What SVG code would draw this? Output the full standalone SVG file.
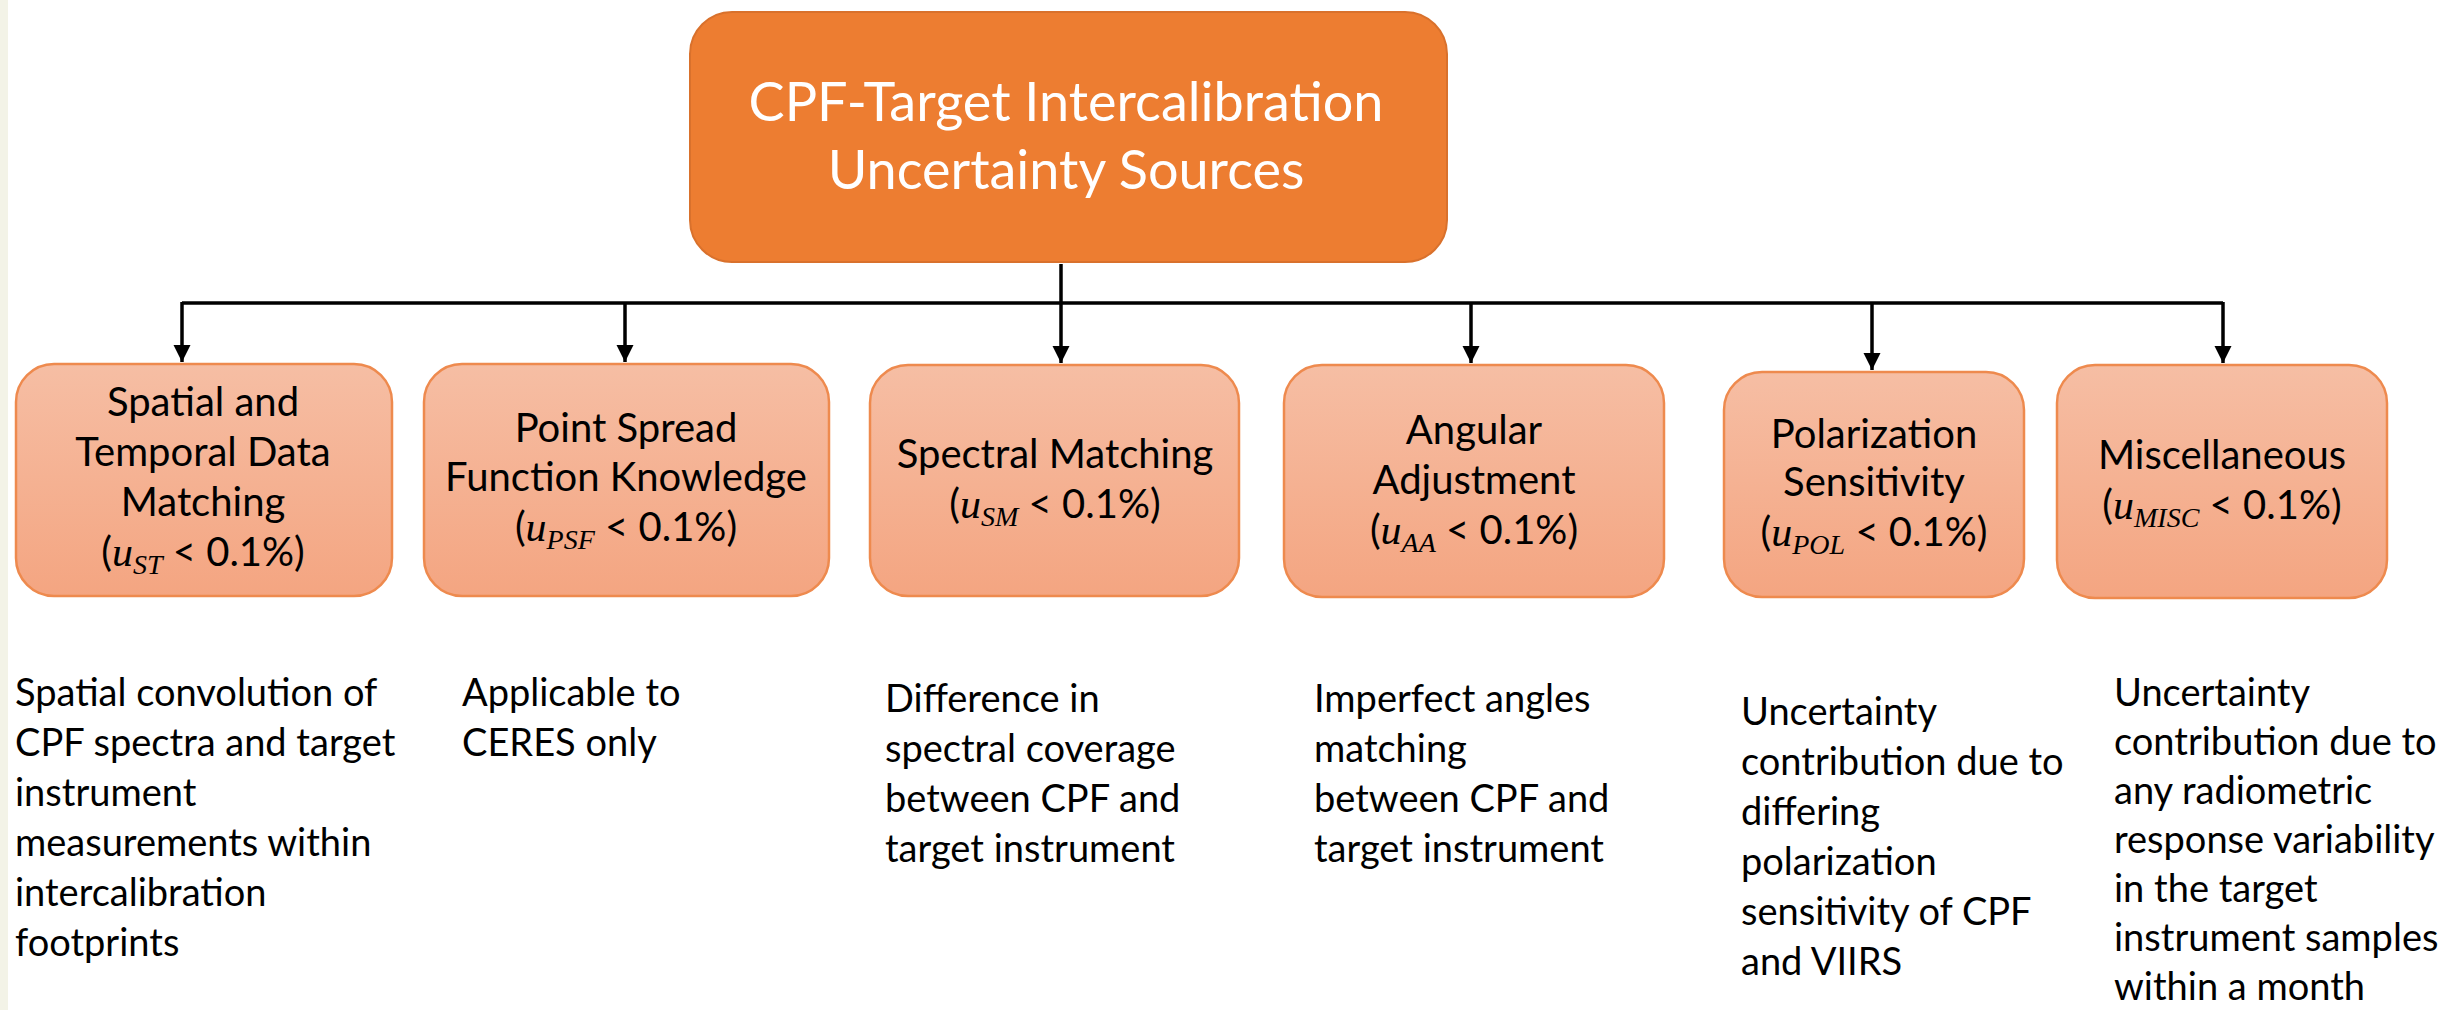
<svg xmlns="http://www.w3.org/2000/svg" width="2461" height="1010" viewBox="0 0 2461 1010">
<style>
.bx{stroke:#EE8A4E;stroke-width:2.5;fill:url(#g)}
.main{fill:#ED7D31;stroke:#D9712C;stroke-width:2}
.tt{font-family:Lato,"Open Sans",sans-serif;font-size:54px;fill:#fff;text-anchor:middle}
.bt{font-family:Lato,"Open Sans",sans-serif;font-size:40px;fill:#000;text-anchor:middle}
.dt{font-family:Lato,"Open Sans",sans-serif;font-size:38px;fill:#000}
.m{font-family:"Liberation Serif","DejaVu Serif",serif;font-style:italic;font-size:42px}
.ms{font-family:"Liberation Serif","DejaVu Serif",serif;font-style:italic;font-size:28px}
.ln{stroke:#000;stroke-width:3.5;fill:none}
</style>
<defs>
<linearGradient id="g" x1="0" y1="0" x2="0" y2="1">
<stop offset="0" stop-color="#F6BEA4"/>
<stop offset="1" stop-color="#F4A581"/>
</linearGradient>
<marker id="ah" viewBox="0 0 10 10" refX="10" refY="5" markerWidth="5" markerHeight="5" markerUnits="strokeWidth" orient="auto">
<path d="M0,0 L10,5 L0,10 z" fill="#000"/>
</marker>
</defs>
<rect x="0" y="0" width="2461" height="1010" fill="#fff"/>
<rect x="0" y="0" width="8" height="1010" fill="#F3F3E7"/>

<g id="connectors">
<line class="ln" x1="1061" y1="264" x2="1061" y2="363" marker-end="url(#ah)"/>
<line class="ln" x1="182" y1="303" x2="2223" y2="303" stroke-width="3"/>
<line class="ln" x1="182" y1="302" x2="182" y2="362" marker-end="url(#ah)"/>
<line class="ln" x1="625" y1="302" x2="625" y2="362" marker-end="url(#ah)"/>
<line class="ln" x1="1471" y1="302" x2="1471" y2="363" marker-end="url(#ah)"/>
<line class="ln" x1="1872" y1="302" x2="1872" y2="370" marker-end="url(#ah)"/>
<line class="ln" x1="2223" y1="302" x2="2223" y2="363" marker-end="url(#ah)"/>
</g>

<g id="main">
<rect class="main" x="690" y="12" width="757" height="250" rx="42"/>
<text class="tt" x="1066" y="121">CPF-Target Intercalibration</text>
<text class="tt" x="1066" y="189">Uncertainty Sources</text>
</g>

<g id="n1">
<rect class="bx" x="16" y="364" width="376" height="232" rx="38"/>
<text class="bt" x="203" y="416">Spatial and</text>
<text class="bt" x="203" y="466">Temporal Data</text>
<text class="bt" x="203" y="516">Matching</text>
<text class="bt" x="203" y="566">(<tspan class="m">u</tspan><tspan class="ms" dy="8">ST</tspan><tspan dy="-8"> &lt; 0.1%)</tspan></text>
</g>

<g id="n2">
<rect class="bx" x="424" y="364" width="405" height="232" rx="38"/>
<text class="bt" x="626" y="442">Point Spread</text>
<text class="bt" x="626" y="491">Function Knowledge</text>
<text class="bt" x="626" y="541">(<tspan class="m">u</tspan><tspan class="ms" dy="8">PSF</tspan><tspan dy="-8"> &lt; 0.1%)</tspan></text>
</g>

<g id="n3">
<rect class="bx" x="870" y="365" width="369" height="231" rx="38"/>
<text class="bt" x="1055" y="468">Spectral Matching</text>
<text class="bt" x="1055" y="518">(<tspan class="m">u</tspan><tspan class="ms" dy="8">SM</tspan><tspan dy="-8"> &lt; 0.1%)</tspan></text>
</g>

<g id="n4">
<rect class="bx" x="1284" y="365" width="380" height="232" rx="38"/>
<text class="bt" x="1474" y="444">Angular</text>
<text class="bt" x="1474" y="494">Adjustment</text>
<text class="bt" x="1474" y="544">(<tspan class="m">u</tspan><tspan class="ms" dy="8">AA</tspan><tspan dy="-8"> &lt; 0.1%)</tspan></text>
</g>

<g id="n5">
<rect class="bx" x="1724" y="372" width="300" height="225" rx="38"/>
<text class="bt" x="1874" y="448">Polarization</text>
<text class="bt" x="1874" y="496">Sensitivity</text>
<text class="bt" x="1874" y="546">(<tspan class="m">u</tspan><tspan class="ms" dy="8">POL</tspan><tspan dy="-8"> &lt; 0.1%)</tspan></text>
</g>

<g id="n6">
<rect class="bx" x="2057" y="365" width="330" height="233" rx="38"/>
<text class="bt" x="2222" y="469">Miscellaneous</text>
<text class="bt" x="2222" y="519">(<tspan class="m">u</tspan><tspan class="ms" dy="8">MISC</tspan><tspan dy="-8"> &lt; 0.1%)</tspan></text>
</g>

<g id="d1">
<text class="dt" x="15" y="706">Spatial convolution of</text>
<text class="dt" x="15" y="756">CPF spectra and target</text>
<text class="dt" x="15" y="806">instrument</text>
<text class="dt" x="15" y="856">measurements within</text>
<text class="dt" x="15" y="906">intercalibration</text>
<text class="dt" x="15" y="956">footprints</text>
</g>
<g id="d2">
<text class="dt" x="462" y="706">Applicable to</text>
<text class="dt" x="462" y="756">CERES only</text>
</g>
<g id="d3">
<text class="dt" x="885" y="712">Difference in</text>
<text class="dt" x="885" y="762">spectral coverage</text>
<text class="dt" x="885" y="812">between CPF and</text>
<text class="dt" x="885" y="862">target instrument</text>
</g>
<g id="d4">
<text class="dt" x="1314" y="712">Imperfect angles</text>
<text class="dt" x="1314" y="762">matching</text>
<text class="dt" x="1314" y="812">between CPF and</text>
<text class="dt" x="1314" y="862">target instrument</text>
</g>
<g id="d5">
<text class="dt" x="1741" y="725">Uncertainty</text>
<text class="dt" x="1741" y="775">contribution due to</text>
<text class="dt" x="1741" y="825">differing</text>
<text class="dt" x="1741" y="875">polarization</text>
<text class="dt" x="1741" y="925">sensitivity of CPF</text>
<text class="dt" x="1741" y="975">and VIIRS</text>
</g>
<g id="d6">
<text class="dt" x="2114" y="706">Uncertainty</text>
<text class="dt" x="2114" y="755">contribution due to</text>
<text class="dt" x="2114" y="804">any radiometric</text>
<text class="dt" x="2114" y="853">response variability</text>
<text class="dt" x="2114" y="902">in the target</text>
<text class="dt" x="2114" y="951">instrument samples</text>
<text class="dt" x="2114" y="1000">within a month</text>
</g>
</svg>
